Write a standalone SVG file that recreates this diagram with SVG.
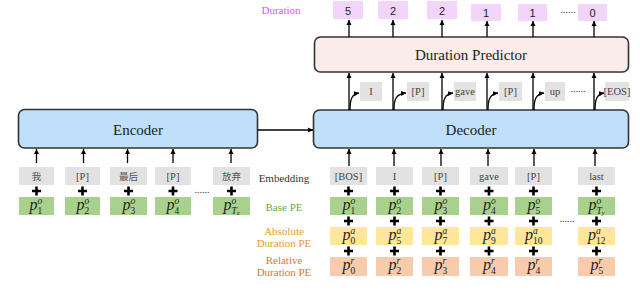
<svg xmlns="http://www.w3.org/2000/svg" width="640" height="300" viewBox="0 0 640 300">
<defs>
<marker id="ah" viewBox="0 0 10 10" refX="10" refY="5" markerWidth="5" markerHeight="6" markerUnits="userSpaceOnUse" orient="auto"><path d="M0,0 L10,5 L0,10 z" fill="#000"/></marker>
<path id="plus" d="M-4.5,0 H4.5 M0,-4.5 V4.5" stroke="#000" stroke-width="2.6" fill="none"/>
</defs>
<style>
.big{fill:#bfdffa;stroke:#333;stroke-width:1.6}
.dp{fill:#f9ece9;stroke:#333;stroke-width:1.6}
.bt{font-family:"Liberation Serif",serif;font-size:15px;fill:#222;text-anchor:middle}
.g{fill:#e2e2e2}
.gr{fill:#a9d18e}
.ye{fill:#ffe699}
.or{fill:#f8cbad}
.du{fill:#f3d4fb}
.tk{font-family:"Liberation Serif",serif;font-size:10.5px;fill:#444;text-anchor:middle}
.cjk{font-family:"Noto Sans CJK SC",sans-serif;font-size:9.5px;fill:#555;text-anchor:middle}
.num{font-family:"Liberation Sans",sans-serif;font-size:11px;fill:#222;text-anchor:middle}
.m{font-family:"Liberation Serif",serif;font-style:italic;font-size:16px;fill:#222}
.s{font-size:9.5px}
.su{font-size:9.5px;font-style:normal}
.lab{font-family:"Liberation Serif",serif;font-size:11px;text-anchor:middle}
.dots{font-family:"Liberation Serif",serif;font-size:10px;fill:#333;text-anchor:middle}
.ln{stroke:#000;stroke-width:1.3;fill:none;marker-end:url(#ah)}
</style>
<rect width="640" height="300" fill="#fff"/>

<!-- Labels -->
<text class="lab" x="281" y="14" fill="#d957ee" font-size="10">Duration</text>
<text class="lab" x="284" y="182" fill="#333">Embedding</text>
<text class="lab" x="284" y="211" fill="#6aaa48">Base PE</text>
<text class="lab" x="284" y="235" fill="#e49a2e">Absolute</text>
<text class="lab" x="284" y="247" fill="#e49a2e">Duration PE</text>
<text class="lab" x="284" y="264" fill="#e0733a">Relative</text>
<text class="lab" x="284" y="276" fill="#e0733a">Duration PE</text>

<!-- Big blocks -->
<g id="encoder"><rect class="big" x="18.5" y="109.5" width="239" height="38.5" rx="6"/><text class="bt" x="138" y="134.5">Encoder</text></g>
<g id="decoder"><rect class="big" x="313.5" y="110" width="315" height="38" rx="6"/><text class="bt" x="471" y="134.5">Decoder</text></g>
<g id="duration-predictor"><rect class="dp" x="314.5" y="37" width="314" height="35" rx="6"/><text class="bt" x="471" y="60">Duration Predictor</text></g>

<!-- Duration outputs -->
<g id="dur1"><rect class="du" x="333" y="1" width="30" height="18"/><text class="num" x="348" y="14.5">5</text></g>
<g id="dur2"><rect class="du" x="378" y="1" width="30" height="18"/><text class="num" x="393" y="14.5">2</text></g>
<g id="dur3"><rect class="du" x="427" y="1" width="30" height="18"/><text class="num" x="442" y="14.5">2</text></g>
<g id="dur4"><rect class="du" x="471" y="4" width="30" height="17"/><text class="num" x="486" y="16.5">1</text></g>
<g id="dur5"><rect class="du" x="518" y="4" width="29" height="17"/><text class="num" x="532.5" y="16.5">1</text></g>
<g id="dur6"><rect class="du" x="578" y="4" width="29" height="17"/><text class="num" x="592.5" y="16.5">0</text></g>
<text class="dots" x="568" y="13">......</text>

<!-- Decoder output tokens -->
<g id="out1"><rect class="g" x="360" y="82" width="22" height="19"/><text class="tk" x="371" y="95">I</text></g>
<g id="out2"><rect class="g" x="407" y="82" width="22" height="19"/><text class="tk" x="418" y="95">[P]</text></g>
<g id="out3"><rect class="g" x="454" y="82" width="22" height="19"/><text class="tk" x="465" y="95">gave</text></g>
<g id="out4"><rect class="g" x="499" y="82" width="23" height="19"/><text class="tk" x="510.5" y="95">[P]</text></g>
<g id="out5"><rect class="g" x="545" y="82" width="20" height="19"/><text class="tk" x="555" y="95">up</text></g>
<g id="out6"><rect class="g" x="605" y="82" width="24" height="19"/><text class="tk" x="617" y="94.5" font-size="8.5">[EOS]</text></g>
<text class="dots" x="578" y="92">......</text>

<!-- Encoder input columns -->
<g id="enc-col1">
<rect class="g" x="19" y="167" width="35" height="18"/><text class="cjk" x="36.5" y="179.5">我</text>
<rect class="gr" x="19" y="197" width="35" height="18"/>
<text class="m"><tspan x="29.5" y="210">p</tspan><tspan class="s" x="37.5" y="204">o</tspan><tspan class="su" x="37.5" y="213.5">1</tspan></text>
</g>
<g id="enc-col2">
<rect class="g" x="65" y="167" width="35" height="18"/><text class="tk" x="82.5" y="180">[P]</text>
<rect class="gr" x="65" y="197" width="35" height="18"/>
<text class="m"><tspan x="76.5" y="210">p</tspan><tspan class="s" x="84.5" y="204">o</tspan><tspan class="su" x="84.5" y="213.5">2</tspan></text>
</g>
<g id="enc-col3">
<rect class="g" x="110" y="167" width="37" height="18"/><text class="cjk" x="128.5" y="179.5">最后</text>
<rect class="gr" x="110" y="197" width="37" height="18"/>
<text class="m"><tspan x="122.5" y="210">p</tspan><tspan class="s" x="130.5" y="204">o</tspan><tspan class="su" x="130.5" y="213.5">3</tspan></text>
</g>
<g id="enc-col4">
<rect class="g" x="155" y="167" width="36" height="18"/><text class="tk" x="173" y="180">[P]</text>
<rect class="gr" x="155" y="197" width="36" height="18"/>
<text class="m"><tspan x="166.5" y="210">p</tspan><tspan class="s" x="174.5" y="204">o</tspan><tspan class="su" x="174.5" y="213.5">4</tspan></text>
</g>
<g id="enc-col5">
<rect class="g" x="213" y="167" width="37" height="18"/><text class="cjk" x="231.5" y="179.5">放弃</text>
<rect class="gr" x="213" y="197" width="37" height="18"/>
<text class="m"><tspan x="223.5" y="210">p</tspan><tspan class="s" x="231.5" y="204">o</tspan><tspan class="s" x="231.5" y="213.5">T</tspan><tspan font-size="6.5" dy="1.5">x</tspan></text>
</g>
<text class="dots" x="202" y="193">......</text>

<!-- Decoder input columns -->
<g id="dec-col1">
<rect class="g" x="330" y="167" width="37" height="18"/><text class="tk" x="348.5" y="180">[BOS]</text>
<rect class="gr" x="330" y="197" width="37" height="18"/>
<text class="m"><tspan x="342.5" y="210">p</tspan><tspan class="s" x="350.5" y="204">o</tspan><tspan class="su" x="350.5" y="213.5">1</tspan></text>
<rect class="ye" x="330" y="227" width="37" height="18"/>
<text class="m"><tspan x="342.5" y="240">p</tspan><tspan class="s" x="350.5" y="234">a</tspan><tspan class="su" x="350.5" y="243.5">0</tspan></text>
<rect class="or" x="330" y="257" width="37" height="19"/>
<text class="m"><tspan x="342.5" y="270">p</tspan><tspan class="s" x="350.5" y="264">r</tspan><tspan class="su" x="350.5" y="273.5">0</tspan></text>
</g>
<g id="dec-col2">
<rect class="g" x="376" y="167" width="37" height="18"/><text class="tk" x="394.5" y="180">I</text>
<rect class="gr" x="376" y="197" width="37" height="18"/>
<text class="m"><tspan x="388.5" y="210">p</tspan><tspan class="s" x="396.5" y="204">o</tspan><tspan class="su" x="396.5" y="213.5">2</tspan></text>
<rect class="ye" x="376" y="227" width="37" height="18"/>
<text class="m"><tspan x="388.5" y="240">p</tspan><tspan class="s" x="396.5" y="234">a</tspan><tspan class="su" x="396.5" y="243.5">5</tspan></text>
<rect class="or" x="376" y="257" width="37" height="19"/>
<text class="m"><tspan x="388.5" y="270">p</tspan><tspan class="s" x="396.5" y="264">r</tspan><tspan class="su" x="396.5" y="273.5">2</tspan></text>
</g>
<g id="dec-col3">
<rect class="g" x="422" y="167" width="37" height="18"/><text class="tk" x="440.5" y="180">[P]</text>
<rect class="gr" x="422" y="197" width="37" height="18"/>
<text class="m"><tspan x="434.5" y="210">p</tspan><tspan class="s" x="442.5" y="204">o</tspan><tspan class="su" x="442.5" y="213.5">3</tspan></text>
<rect class="ye" x="422" y="227" width="37" height="18"/>
<text class="m"><tspan x="434.5" y="240">p</tspan><tspan class="s" x="442.5" y="234">a</tspan><tspan class="su" x="442.5" y="243.5">7</tspan></text>
<rect class="or" x="422" y="257" width="37" height="19"/>
<text class="m"><tspan x="434.5" y="270">p</tspan><tspan class="s" x="442.5" y="264">r</tspan><tspan class="su" x="442.5" y="273.5">3</tspan></text>
</g>
<g id="dec-col4">
<rect class="g" x="470" y="167" width="38" height="18"/><text class="tk" x="489" y="180">gave</text>
<rect class="gr" x="470" y="197" width="38" height="18"/>
<text class="m"><tspan x="483" y="210">p</tspan><tspan class="s" x="491" y="204">o</tspan><tspan class="su" x="491" y="213.5">4</tspan></text>
<rect class="ye" x="470" y="227" width="38" height="18"/>
<text class="m"><tspan x="483" y="240">p</tspan><tspan class="s" x="491" y="234">a</tspan><tspan class="su" x="491" y="243.5">9</tspan></text>
<rect class="or" x="470" y="257" width="38" height="19"/>
<text class="m"><tspan x="483" y="270">p</tspan><tspan class="s" x="491" y="264">r</tspan><tspan class="su" x="491" y="273.5">4</tspan></text>
</g>
<g id="dec-col5">
<rect class="g" x="515" y="167" width="37" height="18"/><text class="tk" x="533.5" y="180">[P]</text>
<rect class="gr" x="515" y="197" width="37" height="18"/>
<text class="m"><tspan x="527.5" y="210">p</tspan><tspan class="s" x="535.5" y="204">o</tspan><tspan class="su" x="535.5" y="213.5">5</tspan></text>
<rect class="ye" x="515" y="227" width="37" height="18"/>
<text class="m"><tspan x="525" y="240">p</tspan><tspan class="s" x="533" y="234">a</tspan><tspan class="su" x="533" y="243.5">10</tspan></text>
<rect class="or" x="515" y="257" width="37" height="19"/>
<text class="m"><tspan x="527.5" y="270">p</tspan><tspan class="s" x="535.5" y="264">r</tspan><tspan class="su" x="535.5" y="273.5">4</tspan></text>
</g>
<g id="dec-col6">
<rect class="g" x="578" y="167" width="37" height="18"/><text class="tk" x="596.5" y="180">last</text>
<rect class="gr" x="578" y="197" width="37" height="18"/>
<text class="m"><tspan x="588.5" y="210">p</tspan><tspan class="s" x="596.5" y="204">o</tspan><tspan class="s" x="596.5" y="213.5">T</tspan><tspan font-size="6.5" dy="1.5">y</tspan></text>
<rect class="ye" x="578" y="227" width="37" height="18"/>
<text class="m"><tspan x="588" y="240">p</tspan><tspan class="s" x="596" y="234">a</tspan><tspan class="su" x="596" y="243.5">12</tspan></text>
<rect class="or" x="578" y="257" width="37" height="19"/>
<text class="m"><tspan x="590.5" y="270">p</tspan><tspan class="s" x="598.5" y="264">r</tspan><tspan class="su" x="598.5" y="273.5">5</tspan></text>
</g>
<text class="dots" x="567" y="222">......</text>

<!-- Plus signs -->
<g id="plus-signs">
<use href="#plus" x="36.5" y="191"/><use href="#plus" x="82.5" y="191"/><use href="#plus" x="128.5" y="191"/><use href="#plus" x="173" y="191"/><use href="#plus" x="231.5" y="191"/>
<use href="#plus" x="348.5" y="191"/><use href="#plus" x="394.5" y="191"/><use href="#plus" x="440.5" y="191"/><use href="#plus" x="489" y="191"/><use href="#plus" x="533.5" y="191"/><use href="#plus" x="596.5" y="191"/>
<use href="#plus" x="348.5" y="221"/><use href="#plus" x="394.5" y="221"/><use href="#plus" x="440.5" y="221"/><use href="#plus" x="489" y="221"/><use href="#plus" x="533.5" y="221"/><use href="#plus" x="596.5" y="221"/>
<use href="#plus" x="348.5" y="251"/><use href="#plus" x="394.5" y="251"/><use href="#plus" x="440.5" y="251"/><use href="#plus" x="489" y="251"/><use href="#plus" x="533.5" y="251"/><use href="#plus" x="596.5" y="251"/>
</g>

<!-- Connectors -->
<g id="connectors">
<path class="ln" d="M258,130 H313"/>
<path class="ln" d="M36.5,163 V149"/><path class="ln" d="M83.5,163 V149"/><path class="ln" d="M127.5,163 V149"/><path class="ln" d="M173,163 V149"/><path class="ln" d="M231,163 V149"/>
<path class="ln" d="M349,166 V149"/><path class="ln" d="M394,166 V149"/><path class="ln" d="M441,166 V149"/><path class="ln" d="M488,166 V149"/><path class="ln" d="M534,166 V149"/><path class="ln" d="M595,166 V149"/>
<path class="ln" d="M349,110 V73"/><path class="ln" d="M393,110 V73"/><path class="ln" d="M442,110 V73"/><path class="ln" d="M487,110 V73"/><path class="ln" d="M533,110 V73"/><path class="ln" d="M594,110 V73"/>
<path class="ln" d="M350,110 C350,99 352,94 359,93"/><path class="ln" d="M394,110 C394,99 396,94 406,93"/><path class="ln" d="M443,110 C443,99 445,94 453,93"/><path class="ln" d="M488,110 C488,99 490,94 498,93"/><path class="ln" d="M534,110 C534,99 536,94 544,93"/><path class="ln" d="M595,110 C595,99 597,94 604,93"/>
<path class="ln" d="M349,37 V20"/><path class="ln" d="M393,37 V20"/><path class="ln" d="M442,37 V20"/><path class="ln" d="M487,37 V21"/><path class="ln" d="M533,37 V21"/><path class="ln" d="M594,37 V21"/>
</g>
</svg>
